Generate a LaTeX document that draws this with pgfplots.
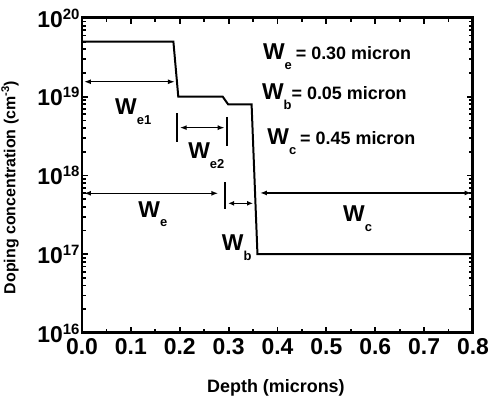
\documentclass[border=0pt]{standalone}
\usepackage{fontspec}
\setmainfont{Liberation Sans}
\usepackage{pgfplots}
\pgfplotsset{compat=1.18}
\usetikzlibrary{arrows.meta}
\newcommand{\Wsub}[1]{{\fontsize{23}{23}\selectfont\bfseries W}\raisebox{-10pt}{\fontsize{13}{13}\selectfont\bfseries #1}}
\newcommand{\tlab}[1]{10\raisebox{8pt}{\fontsize{15}{15}\selectfont #1}}
\begin{document}
\begin{tikzpicture}
\begin{axis}[
  scale only axis, width=391bp, height=315bp,
  ymode=log, xmin=0, xmax=0.8, ymin=1e16, ymax=1e20,
  clip=false,
  axis line style={line width=3pt},
  tick align=inside,
  tick style={line width=1.8pt, black},
  major tick length=6pt, minor tick length=4pt,
  xtick={0,0.1,0.2,0.3,0.4,0.5,0.6,0.7,0.8},
  xticklabels={0.0,0.1,0.2,0.3,0.4,0.5,0.6,0.7,0.8},
  minor x tick num=1,
  ytick={1e16,1e17,1e18,1e19,1e20},
  yticklabels={\tlab{16},\tlab{17},\tlab{18},\tlab{19},\tlab{20}},
  xticklabel style={font=\fontsize{23}{23}\selectfont\bfseries, yshift=-2pt},
  yticklabel style={font=\fontsize{23}{23}\selectfont\bfseries, xshift=1pt},
  xlabel={Depth (microns)},
  ylabel={Doping concentration (cm\textsuperscript{-3})},
  xlabel style={font=\fontsize{18}{18}\selectfont\bfseries, at={(axis description cs:0.496,-0.175)}, anchor=center},
  ylabel style={font=\fontsize{16}{16}\selectfont\bfseries, at={(axis description cs:-0.184,0.462)}, anchor=center},
]
% doping profile
\addplot[line width=2pt, black] coordinates {(0,5e19) (0.187,5e19) (0.197,1e19) (0.288,1e19) (0.299,8e18) (0.347,8e18) (0.359,1e17) (0.8,1e17)};
% arrows and bars
\addplot[line width=1.5pt, black, {Latex[length=7pt,width=5pt]}-{Latex[length=7pt,width=5pt]}] coordinates {(0.004,1.55e19) (0.19,1.55e19)};
\addplot[line width=1.5pt, black, {Latex[length=7pt,width=5pt]}-{Latex[length=7pt,width=5pt]}] coordinates {(0.200,4.05e18) (0.292,4.05e18)};
\addplot[line width=1.8pt, black] coordinates {(0.194,6.2e18) (0.194,2.66e18)};
\addplot[line width=1.8pt, black] coordinates {(0.296,5.53e18) (0.296,2.37e18)};
\addplot[line width=1.5pt, black, {Latex[length=7pt,width=5pt]}-{Latex[length=7pt,width=5pt]}] coordinates {(0.004,5.94e17) (0.279,5.94e17)};
\addplot[line width=1.8pt, black] coordinates {(0.293,8.26e17) (0.293,3.75e17)};
\addplot[line width=1.5pt, black, {Latex[length=6pt,width=5pt]}-{Latex[length=6pt,width=5pt]}] coordinates {(0.299,4.43e17) (0.350,4.43e17)};
\addplot[line width=1.5pt, black, {Latex[length=7pt,width=5pt]}-{Latex[length=7pt,width=5pt]}] coordinates {(0.364,6.0e17) (0.797,6.0e17)};
% labels
\node[anchor=base west, inner sep=0pt] at (axis cs:0.0675,5.87e18) {\Wsub{e1}};
\node[anchor=base west, inner sep=0pt] at (axis cs:0.217,1.62e18) {\Wsub{e2}};
\node[anchor=base west, inner sep=0pt] at (axis cs:0.115,2.97e17) {\Wsub{e}};
\node[anchor=base west, inner sep=0pt] at (axis cs:0.286,1.13e17) {\Wsub{b}};
\node[anchor=base west, inner sep=0pt] at (axis cs:0.534,2.57e17) {\Wsub{c}};
\node[anchor=base west, inner sep=0pt] at (axis cs:0.370,2.93e19) {\Wsub{e}\hspace{4pt}{\fontsize{18}{18}\selectfont\bfseries = 0.30 micron}};
\node[anchor=base west, inner sep=0pt] at (axis cs:0.368,9.1e18) {\Wsub{b}{\fontsize{18}{18}\selectfont\bfseries = 0.05 micron}};
\node[anchor=base west, inner sep=0pt] at (axis cs:0.379,2.44e18) {\Wsub{c}\hspace{4pt}{\fontsize{18}{18}\selectfont\bfseries = 0.45 micron}};
\end{axis}
\pgfresetboundingbox
\useasboundingbox (-82bp,-73bp) rectangle (407bp,333bp);
\end{tikzpicture}
\end{document}
